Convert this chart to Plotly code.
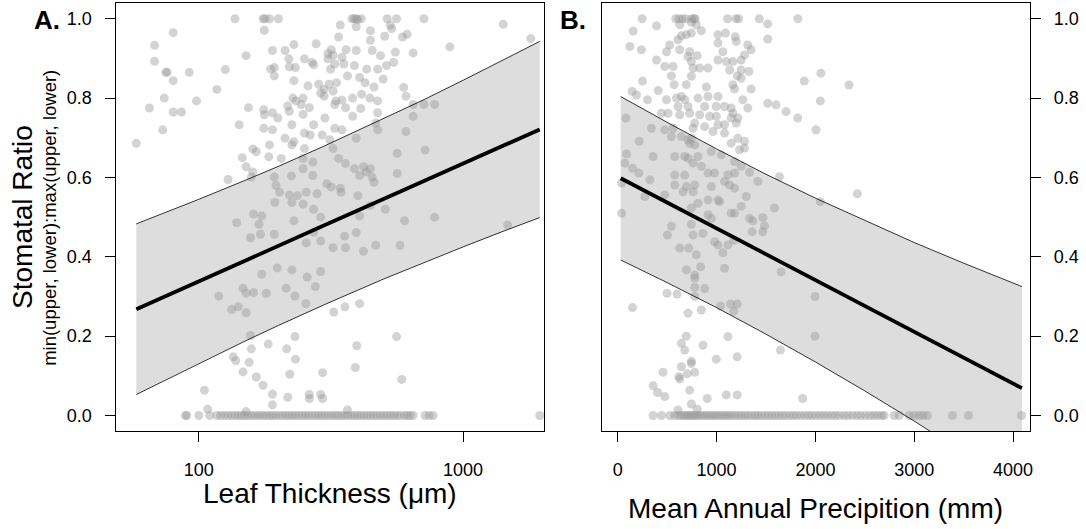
import plotly.graph_objects as go

# ---------------- Panel A: leaf thickness (um) vs stomatal ratio ----------------
thick_x = [137, 175, 178, 185, 200, 380, 387, 394, 412, 516, 560, 711, 1419, 400,
           177, 343, 394, 446, 530, 537, 614, 590, 505, 1803, 338, 446, 80,
           68, 229, 278, 317, 361, 394, 453, 891, 190, 212, 151, 251, 308, 348, 487, 554, 647, 219, 308, 322, 68,
           75, 76, 92, 126, 187, 193, 220, 232, 272, 268, 315, 327, 354, 388, 432, 475, 513, 546, 193, 229, 365, 406, 426, 498, 460, 80,
           74, 98, 117, 259, 284, 298, 322, 311, 332, 248, 233, 227, 298, 289, 382, 413, 444, 348, 330, 596, 608, 475, 711, 780, 647,
           65, 80, 86, 142, 154, 176, 190, 177, 199, 217, 220, 244, 262, 300, 327, 359, 410, 382, 475, 647, 248, 272, 58, 73,
           176, 190, 212, 225, 229, 251, 264, 293, 313, 327, 348, 394, 475, 467, 608,
           165, 160, 185, 184, 205, 225, 248, 251, 270, 322, 338, 359, 563, 718, 146, 151, 160, 158, 129, 193, 224, 270, 248, 388, 406, 420, 446, 453, 430, 563, 460,
           305, 317, 343, 345, 196, 202, 236, 220, 255, 280, 225, 248, 194, 272, 400, 508, 446, 406, 289, 161, 173, 139, 169, 171, 157, 193, 229, 356, 394, 600, 780, 1473, 255, 289, 322, 359, 420, 467, 577, 272,
           198, 225, 173, 257, 289, 147, 151, 161, 180, 214, 231, 276, 119, 133, 141, 151, 254, 324, 357, 406, 157, 231, 560, 183, 158, 215, 396,
           135, 138, 155, 232, 147, 165, 221, 294, 391, 586, 175, 105, 190, 217, 262, 289, 294, 262, 190, 108, 151, 365,
           89, 90, 100, 110, 117, 121, 125, 129, 133, 137, 141, 145, 149, 153, 158, 162, 167, 171, 176, 181, 186, 191, 196, 202,
           208, 214, 220, 226, 232, 239, 246, 253, 260, 268, 276, 284, 292, 300, 309, 318, 327, 336, 346, 356, 366, 377, 388,
           399, 410, 422, 434, 447, 460, 473, 487, 501, 516, 531, 546, 562, 578, 600, 615, 630, 647, 718, 745, 770, 1950]
thick_y = [1.0, 1.0, 1.0, 1.0, 1.0, 1.0, 1.0, 1.0, 1.0, 1.0, 1.0, 1.0, 0.986, 0.998,
           0.971, 0.984, 0.98, 0.97, 0.984, 0.975, 0.961, 0.954, 0.956, 0.95, 0.954, 0.946, 0.965,
           0.933, 0.935, 0.937, 0.922, 0.922, 0.92, 0.92, 0.929, 0.92, 0.92, 0.907, 0.899, 0.899, 0.903, 0.907, 0.916, 0.914, 0.899, 0.912, 0.908, 0.893,
           0.865, 0.865, 0.865, 0.872, 0.873, 0.877, 0.879, 0.877, 0.884, 0.89, 0.873, 0.886, 0.886, 0.882, 0.873, 0.873, 0.882, 0.89, 0.856, 0.844, 0.856, 0.852, 0.839, 0.848, 0.828, 0.844,
           0.80, 0.793, 0.822, 0.831, 0.835, 0.822, 0.818, 0.835, 0.839, 0.80, 0.793, 0.80, 0.805, 0.813, 0.80, 0.81, 0.80, 0.795, 0.793, 0.827, 0.805, 0.793, 0.784, 0.784, 0.784,
           0.775, 0.765, 0.765, 0.733, 0.776, 0.771, 0.763, 0.758, 0.75, 0.78, 0.767, 0.784, 0.776, 0.75, 0.784, 0.776, 0.774, 0.754, 0.763, 0.754, 0.759, 0.733, 0.686, 0.72,
           0.724, 0.72, 0.699, 0.733, 0.69, 0.712, 0.707, 0.707, 0.695, 0.724, 0.72, 0.699, 0.72, 0.737, 0.716,
           0.665, 0.672, 0.682, 0.652, 0.648, 0.682, 0.648, 0.673, 0.639, 0.673, 0.648, 0.635, 0.661, 0.669, 0.65, 0.627, 0.614, 0.601, 0.595, 0.601, 0.604, 0.605, 0.622, 0.622, 0.605, 0.627, 0.622, 0.601, 0.614, 0.61, 0.588,
           0.584, 0.576, 0.573, 0.563, 0.58, 0.563, 0.554, 0.556, 0.563, 0.559, 0.537, 0.533, 0.537, 0.52, 0.554, 0.52, 0.529, 0.503, 0.50, 0.508, 0.503, 0.486, 0.482, 0.457, 0.448, 0.457, 0.491, 0.452, 0.461, 0.491, 0.50, 0.48, 0.435, 0.44, 0.423, 0.423, 0.414, 0.429, 0.429, 0.462,
           0.372, 0.367, 0.356, 0.349, 0.363, 0.321, 0.308, 0.31, 0.308, 0.321, 0.301, 0.325, 0.301, 0.267, 0.274, 0.259, 0.282, 0.261, 0.274, 0.282, 0.202, 0.199, 0.199, 0.18, 0.168, 0.168, 0.176,
           0.148, 0.138, 0.134, 0.142, 0.11, 0.097, 0.104, 0.108, 0.121, 0.091, 0.076, 0.064, 0.054, 0.046, 0.053, 0.053, 0.043, 0.043, 0.027, 0.016, 0.01, 0.014,
           0, 0, 0, 0, 0, 0, 0, 0, 0, 0, 0, 0, 0, 0, 0, 0, 0, 0, 0, 0, 0, 0, 0, 0,
           0, 0, 0, 0, 0, 0, 0, 0, 0, 0, 0, 0, 0, 0, 0, 0, 0, 0, 0, 0, 0, 0, 0,
           0, 0, 0, 0, 0, 0, 0, 0, 0, 0, 0, 0, 0, 0, 0, 0, 0, 0, 0, 0, 0, 0, 0]

fitA_x = [58, 80, 100, 150, 200, 300, 500, 700, 1000, 1400, 1950]
fitA_mid = [0.268, 0.309, 0.338, 0.390, 0.428, 0.480, 0.546, 0.589, 0.635, 0.679, 0.721]
fitA_hi = [0.483, 0.519, 0.545, 0.593, 0.628, 0.680, 0.748, 0.794, 0.845, 0.894, 0.943]
fitA_lo = [0.053, 0.099, 0.132, 0.188, 0.227, 0.280, 0.344, 0.384, 0.425, 0.463, 0.499]

# ---------------- Panel B: mean annual precipitation (mm) vs stomatal ratio ----------------
precip_x = [247, 586, 620, 654, 688, 748, 772, 782, 1111, 1196, 1223, 1433, 1822,
            392, 627, 745, 796, 1518,
            156, 846, 745, 694, 644, 610, 1014, 1091, 1189, 1518,
            123, 240, 526, 493, 627, 728, 711, 805, 1014, 1199, 1064, 1316, 1350, 1283,
            392, 476, 560, 745, 762, 829, 913, 1014, 1098, 1165, 1249, 1132, 1249, 1327, 1209, 1249,
            251, 543, 570, 694, 745, 896, 1165, 1182, 1350, 1888, 2056,
            146, 409, 190, 301, 493, 594, 644, 678, 812, 913, 1014, 879, 711, 610, 997, 1081, 1148, 1266, 1316, 1518, 1602, 2050,
            442, 509, 627, 728, 829, 930, 997, 1165, 1148, 1216, 1703, 1821, 2006,
            341, 476, 560, 779, 762, 879, 1014, 1081, 1199, 964, 1081, 82,
            217, 543, 644, 728, 711, 779, 745, 1148, 1216, 1283, 1283, 1232,
            89, 358, 72, 150, 214, 577, 678, 711, 812, 762, 947, 1048, 1182, 1249, 1333, 846, 913, 980, 1115, 1182, 577, 678, 1418, 1636, 2050,
            39, 325, 577, 694, 779, 947, 1081, 1132, 1182, 274, 476, 661, 762, 812, 913, 1014, 1249, 1586, 1300, 1182, 39, 745, 1148,
            543, 503, 745, 863, 913, 947, 762, 1333, 1367, 1468, 1485, 1360, 1468, 1031,
            627, 718, 795, 980, 1014, 1064, 1115, 1175, 1081, 839, 694, 779, 779, 1653, 1996, 779, 879, 779, 499, 600, 150,
            711, 846, 1040, 1141, 1209, 1175, 1996, 694, 644, 678, 863, 1115, 1209, 997, 1646, 745, 745, 644, 459, 620, 627,
            704, 779, 728, 358, 402, 476, 745, 906, 1098, 1209, 1871, 610, 805, 2340, 2425,
            358, 443, 527, 575, 610, 640, 665, 690, 712, 735, 755, 778, 800, 825, 850, 880, 905, 935, 960, 990, 1015, 1045,
            1075, 1100, 1130, 1160, 1190, 1225, 1255, 1290, 1320, 1355, 1390, 1420, 1455, 1490, 1525, 1560, 1595, 1630,
            1665, 1700, 1740, 1775, 1810, 1850, 1890, 1930, 1965, 2005, 2045, 2085, 2125, 2165, 2205, 2245, 2290, 2330,
            2375, 2420, 2460, 2505, 2550, 2590, 2630, 2670, 2696, 2797, 2848, 2949, 2999, 3050, 3090, 3134, 3386, 3548, 4086]
precip_y = [1.0, 1.0, 1.0, 1.0, 1.0, 1.0, 1.0, 1.0, 1.0, 1.0, 1.0, 1.0, 1.0,
            0.982, 0.985, 0.991, 0.985, 0.987,
            0.969, 0.970, 0.964, 0.960, 0.957, 0.947, 0.960, 0.964, 0.955, 0.949,
            0.930, 0.922, 0.934, 0.917, 0.922, 0.917, 0.905, 0.907, 0.939, 0.943, 0.917, 0.934, 0.922, 0.909,
            0.896, 0.880, 0.880, 0.892, 0.876, 0.876, 0.876, 0.896, 0.892, 0.892, 0.896, 0.871, 0.871, 0.867, 0.856, 0.850,
            0.843, 0.856, 0.834, 0.834, 0.855, 0.828, 0.834, 0.823, 0.823, 0.843, 0.863,
            0.817, 0.819, 0.808, 0.796, 0.796, 0.800, 0.804, 0.796, 0.800, 0.804, 0.804, 0.779, 0.779, 0.779, 0.779, 0.779, 0.775, 0.796, 0.775, 0.787, 0.783, 0.793,
            0.762, 0.762, 0.758, 0.762, 0.758, 0.754, 0.754, 0.762, 0.750, 0.750, 0.766, 0.750, 0.720,
            0.724, 0.720, 0.724, 0.737, 0.724, 0.728, 0.733, 0.733, 0.737, 0.716, 0.712, 0.750,
            0.691, 0.703, 0.703, 0.686, 0.695, 0.682, 0.699, 0.686, 0.699, 0.691, 0.674, 0.670,
            0.659, 0.653, 0.636, 0.623, 0.611, 0.653, 0.653, 0.649, 0.653, 0.636, 0.665, 0.657, 0.640, 0.628, 0.613, 0.628, 0.611, 0.611, 0.607, 0.611, 0.606, 0.606, 0.590, 0.602, 0.539,
            0.586, 0.594, 0.581, 0.577, 0.581, 0.577, 0.590, 0.581, 0.573, 0.552, 0.556, 0.564, 0.564, 0.535, 0.543, 0.543, 0.527, 0.523, 0.552, 0.510, 0.510, 0.523, 0.510,
            0.477, 0.455, 0.482, 0.459, 0.506, 0.497, 0.455, 0.497, 0.491, 0.499, 0.478, 0.463, 0.463, 0.539,
            0.422, 0.422, 0.405, 0.438, 0.430, 0.410, 0.430, 0.442, 0.371, 0.375, 0.367, 0.354, 0.346, 0.362, 0.300, 0.323, 0.320, 0.300, 0.308, 0.306, 0.272,
            0.258, 0.266, 0.276, 0.281, 0.281, 0.263, 0.200, 0.200, 0.182, 0.165, 0.177, 0.199, 0.148, 0.142, 0.165, 0.137, 0.131, 0.123, 0.109, 0.098, 0.092,
            0.105, 0.109, 0.064, 0.075, 0.058, 0.048, 0.029, 0.043, 0.052, 0.052, 0.043, 0.014, 0.016, 0.833, 0.559,
            0, 0, 0, 0, 0, 0, 0, 0, 0, 0, 0, 0, 0, 0, 0, 0, 0, 0, 0, 0, 0, 0,
            0, 0, 0, 0, 0, 0, 0, 0, 0, 0, 0, 0, 0, 0, 0, 0, 0, 0,
            0, 0, 0, 0, 0, 0, 0, 0, 0, 0, 0, 0, 0, 0, 0, 0, 0, 0,
            0, 0, 0, 0, 0, 0, 0, 0, 0, 0, 0, 0, 0, 0, 0, 0, 0, 0, 0]

fitB_x = [30, 500, 1000, 1500, 2000, 2500, 3000, 3500, 4090]
fitB_mid = [0.598, 0.537, 0.472, 0.407, 0.342, 0.276, 0.211, 0.146, 0.069]
fitB_hi = [0.804, 0.739, 0.672, 0.608, 0.548, 0.491, 0.436, 0.384, 0.325]
fitB_lo = [0.392, 0.335, 0.272, 0.205, 0.135, 0.062, -0.014, -0.092, -0.187]

y_ticks = [0, 0.2, 0.4, 0.6, 0.8, 1.0]
y_tick_text = ["0.0", "0.2", "0.4", "0.6", "0.8", "1.0"]
a_ticks = [100, 1000]
a_tick_text = ["100", "1000"]
b_ticks = [0, 1000, 2000, 3000, 4000]
b_tick_text = ["0", "1000", "2000", "3000", "4000"]

FONT = "Liberation Sans, Arial, Helvetica, sans-serif"
W, H = 1086, 529
BAND = "rgb(221,221,221)"
PT = "rgba(150,150,150,0.42)"

fig = go.Figure()


def add_panel(xs, mid, hi, lo, px, py, xa, ya):
    fig.add_trace(go.Scatter(x=list(xs) + list(xs)[::-1], y=list(hi) + list(lo)[::-1],
                             fill="toself", fillcolor=BAND, line=dict(width=0),
                             mode="lines", xaxis=xa, yaxis=ya, hoverinfo="skip"))
    fig.add_trace(go.Scatter(x=px, y=py, mode="markers",
                             marker=dict(size=9, color=PT, line=dict(width=0)),
                             xaxis=xa, yaxis=ya, hoverinfo="skip", cliponaxis=True))
    for band in (hi, lo):
        fig.add_trace(go.Scatter(x=xs, y=band, mode="lines",
                                 line=dict(color="black", width=0.8),
                                 xaxis=xa, yaxis=ya, hoverinfo="skip"))
    fig.add_trace(go.Scatter(x=xs, y=mid, mode="lines",
                             line=dict(color="black", width=3.8),
                             xaxis=xa, yaxis=ya, hoverinfo="skip"))


add_panel(fitA_x, fitA_mid, fitA_hi, fitA_lo, thick_x, thick_y, "x", "y")
add_panel(fitB_x, fitB_mid, fitB_hi, fitB_lo, precip_x, precip_y, "x2", "y2")

ydom = [1 - 431 / H, 1 - 3.3 / H]
axis_common = dict(showline=True, linecolor="black", linewidth=1, mirror=True,
                   showgrid=False, zeroline=False, ticks="outside", ticklen=10,
                   tickcolor="black", tickwidth=1,
                   tickfont=dict(family=FONT, size=18, color="black"))

fig.update_layout(
    width=W, height=H, autosize=False,
    margin=dict(l=0, r=0, t=0, b=0),
    paper_bgcolor="white", plot_bgcolor="white",
    showlegend=False,
    xaxis=dict(domain=[116.7 / W, 546 / W], type="log", range=[1.688, 3.308],
               tickvals=a_ticks, ticktext=a_tick_text, anchor="y",
               ticklabelstandoff=12, **axis_common),
    yaxis=dict(domain=ydom, range=[-0.039, 1.039], tickvals=y_ticks,
               ticktext=y_tick_text, anchor="x", ticklabelstandoff=10, **axis_common),
    xaxis2=dict(domain=[603.3 / W, 1033 / W], range=[-163, 4173],
                tickvals=b_ticks, ticktext=b_tick_text, anchor="y2",
                ticklabelstandoff=12, **axis_common),
    yaxis2=dict(domain=ydom, range=[-0.039, 1.039], tickvals=y_ticks,
                ticktext=y_tick_text, anchor="x2", side="right",
                ticklabelstandoff=9, **axis_common),
)


def ann(text, x, y, size, bold=False, angle=0, xanchor="center"):
    fig.add_annotation(text=("<b>%s</b>" % text) if bold else text,
                       x=x / W, y=1 - y / H, xref="paper", yref="paper",
                       xanchor=xanchor, yanchor="middle", showarrow=False,
                       textangle=angle,
                       font=dict(family=FONT, size=size, color="black"))


ann("A.", 32, 19.5, 26, bold=True, xanchor="left")
ann("B.", 560, 19.5, 26, bold=True, xanchor="left")
ann("Leaf Thickness (μm)", 331.4, 493, 28)
ann("Mean Annual Precipition (mm)", 818, 508, 28)
ann("Stomatal Ratio", 23, 217, 28, angle=-90)
ann("min(upper, lower):max(upper, lower)", 50, 218, 18.5, angle=-90)

fig.write_html("out.html",
               config={"displayModeBar": False},
               post_script="document.body.style.margin='0px';"
                           "document.body.style.overflow='hidden';")
